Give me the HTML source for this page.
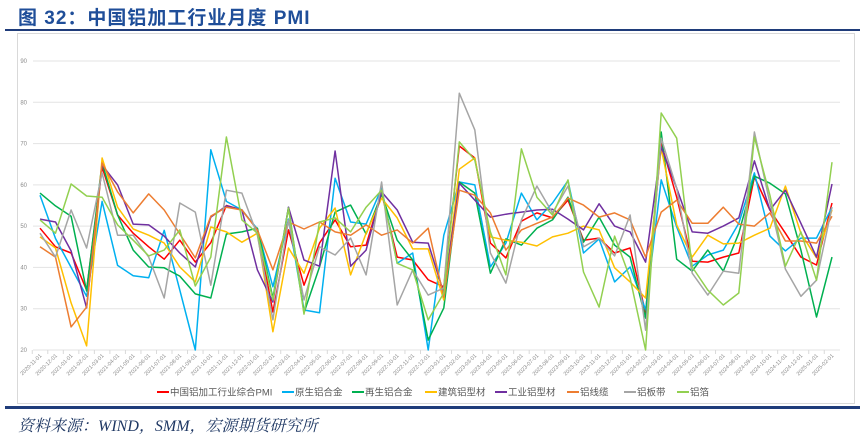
<!DOCTYPE html>
<html><head><meta charset="utf-8">
<style>
html,body{margin:0;padding:0;background:#fff;width:864px;height:438px;overflow:hidden;}
#root{position:relative;width:864px;height:438px;font-family:"Liberation Sans","Noto Sans CJK SC",sans-serif;}
#title{position:absolute;left:18px;top:3px;font-size:19px;font-weight:bold;color:#1f4e99;letter-spacing:1px;white-space:nowrap;}
#topline{position:absolute;left:5px;top:29px;width:855px;height:2px;background:#1f3c7a;}
#box{position:absolute;left:17px;top:33px;width:838px;height:371px;border:1px solid #d9d9d9;box-sizing:border-box;}
#botline{position:absolute;left:5px;top:406px;width:855px;height:3px;background:#1f3c7a;}
#source{position:absolute;left:18px;top:413px;font-size:16px;font-style:italic;color:#1f3864;font-family:"Liberation Serif","Noto Serif CJK SC",serif;white-space:nowrap;}
svg{position:absolute;left:0;top:0;}
</style></head><body>
<div id="root">
<div id="title">图 32：中国铝加工行业月度 PMI</div>
<div id="topline"></div>
<div id="box"></div>
<svg id="chart" width="864" height="438"></svg>
<div id="botline"></div>
<div id="source">资料来源：WIND，SMM，宏源期货研究所</div>
</div>
<script>
const yTicks = [20,30,40,50,60,70,80,90];
const seriesNames = ["中国铝加工行业综合PMI","原生铝合金","再生铝合金","建筑铝型材","工业铝型材","铝线缆","铝板带","铝箔"];
const seriesColors = ["#ff0000","#00b0f0","#00b050","#ffc000","#7030a0","#ed7d31","#a5a5a5","#92d050"];
const months = [];
for (let y=2020,m=11; months.length<52; ) { months.push(y+"-"+(m<10?"0"+m:m)+"-01"); m++; if(m>12){m=1;y++;} }
const sComposite = [49.5,45,43.5,34.5,64.3,52.7,48.3,45,42,46.6,41.3,46,55,53.9,49.1,29.2,49.1,35.7,45.9,51.5,45,45.4,58,42.5,41.8,37,35.3,69.4,66.5,45.9,42.3,51.2,53.2,52,56.3,46.6,47.1,43.5,44.7,29,70.1,57,41.5,41.3,42.5,43.5,61.9,53.9,48.3,42.5,40.6,55.6];
const sPrimary = [57.5,47,40,33,56,40.5,38,37.5,49,34.5,20,68.5,56,53.9,49.3,35.3,51.7,29.7,29,61.6,51,50.5,59.2,41,43.5,20,47.8,60.7,60,40.1,45.9,58,51.5,55.6,61,43.5,46.9,36.5,40.1,29.7,61.2,49.8,40.3,43,44.2,50.7,62.9,47.6,44,47.1,47.1,54.6];
const sRecycled = [58,54.9,52.4,34.3,65.3,52.7,44.2,40.1,39.9,37.9,33.6,32.6,48.1,48.6,49.5,32.6,54.6,29,40.1,53.4,55.1,48.1,57.8,46.6,41.8,22.4,30.2,60.7,58,38.6,46.9,45.4,49.5,51.5,57,46.1,52.2,45.4,42.5,27.7,72.8,42,39.1,44.2,39.1,48.3,62.1,60.4,57.8,44.2,28,42.5];
const sBuilding = [47.4,44.7,31.4,21,66.5,54.6,49.3,47.8,45.9,40.1,36.5,49.8,48.6,46.1,48.3,24.4,44.7,38.6,49.5,54.4,38.2,48.3,56.8,52,44.5,44.5,32.1,63.8,66.5,47.4,46.6,46.1,45.2,47.4,48.3,50,49.1,39.9,36.5,32.6,68.9,50.3,42.5,47.8,45.7,45.9,47.8,49.5,59.7,48.3,42.3,53.9];
const sIndustrial = [51.7,51,44,30.2,64.8,60,50.5,50.3,47.6,43.5,40.1,52.2,54.9,53.9,39.4,31.6,54.6,41.8,40.3,68.2,40.3,44.2,58.3,53.9,46.1,45.9,33.8,60.4,56.3,52.2,52.9,53.4,53.9,54.1,51.7,49.1,55.4,50,48.6,41.3,69.2,59.2,48.6,48.3,50,52,65.8,53.9,58.7,50.7,42.5,60.2];
const sCable = [45,42.5,25.6,30.4,65.3,58.3,53.2,57.8,53.9,48.1,42.3,52.4,54.6,53.9,49.1,39.4,51,49.3,51,48.6,47.8,50.3,47.8,49.1,45.9,49.5,32.8,58.7,57.5,53.2,44.2,49.1,50.7,52.2,56.8,55.1,52.2,53.2,51.5,42.5,53.4,56.3,50.7,50.7,54.6,50.5,50,53.2,46.4,46.4,45.9,52.4];
const sSheet = [48.3,42.5,53.9,44.7,62.9,47.8,47.8,42.5,32.6,55.6,53.4,35.7,58.7,58,47.8,27.3,51.5,32.1,45,43,47.1,38.2,60.7,30.9,39.4,33.3,35,82.2,73.3,43.5,36.2,51.5,59.7,53.2,59.7,45,47.1,42.8,52.7,24.8,71.3,59.2,38.6,33.3,39.1,38.6,72.8,55.6,39.6,33,36.9,54.6];
const sFoil = [51.5,48.3,60.2,57.3,57,50.3,46.6,42.8,44.2,49.1,35.5,42.5,71.6,51.5,48.3,32.1,54.4,28.7,51,52,48.6,54.6,58.7,41,39.4,27.3,33.8,70.4,66,48.6,38.2,68.7,57,52.7,61.2,38.9,30.4,47.6,37.4,20,77.4,71.3,40.1,34.5,30.9,33.8,71.6,57.5,40.3,48.6,36.9,65.5];
const allSeries = [sComposite,sPrimary,sRecycled,sBuilding,sIndustrial,sCable,sSheet,sFoil];

const NS="http://www.w3.org/2000/svg";
const svg=document.getElementById('chart');
const X0=40, X1=832, Y0=350, Y1=61, VMIN=20, VMAX=90;
function xScale(i){ return X0 + (X1-X0)*i/(months.length-1); }
function yScale(v){ return Y0 - (v-VMIN)/(VMAX-VMIN)*(Y0-Y1); }
function mk(tag, attrs){ const e=document.createElementNS(NS,tag); for(const k in attrs) e.setAttribute(k,attrs[k]); svg.appendChild(e); return e; }

yTicks.forEach(t=>{
  const g=mk('line',{x1:33,x2:840,y1:yScale(t),y2:yScale(t),stroke:'#e3e3e3','stroke-width':1});
  
  
  const lb=mk('text',{x:27,y:yScale(t)+2,'font-size':6,'text-anchor':'end',fill:'#8c8c8c','font-family':'Liberation Sans'});
  lb.textContent=t;
  
  
});
months.forEach((m,i)=>{
  const x=xScale(i);
  const tk=mk('line',{x1:x-7.75,x2:x-7.75,y1:350,y2:354,stroke:'#d9d9d9','stroke-width':1});
  
  
  const lb=mk('text',{x:x+2,y:356,'font-size':5.5,'text-anchor':'end',fill:'#8c8c8c','font-family':'Liberation Sans',transform:`rotate(-45 ${x+2} 356)`});
  lb.textContent=m;
  
  
});
allSeries.forEach((s,k)=>{
  const d=s.map((v,i)=>(i?'L':'M')+xScale(i).toFixed(1)+' '+yScale(v).toFixed(1)).join(' ');
  const p=mk('path',{d:d,fill:'none',stroke:seriesColors[k],'stroke-width':1.5,'stroke-linejoin':'round'});
  
  
});
const legendX=[157,282,352,425,495,567,624,677];
seriesNames.forEach((n,k)=>{
  const ln=mk('line',{x1:legendX[k],x2:legendX[k]+12,y1:392,y2:392,stroke:seriesColors[k],'stroke-width':2});
  
  
  const t=mk('text',{x:legendX[k]+13,y:395.5,'font-size':9.5,fill:'#595959','font-family':'Liberation Sans, Noto Sans CJK SC, sans-serif'});
  t.textContent=n;
  
  
});
</script>
</body></html>
